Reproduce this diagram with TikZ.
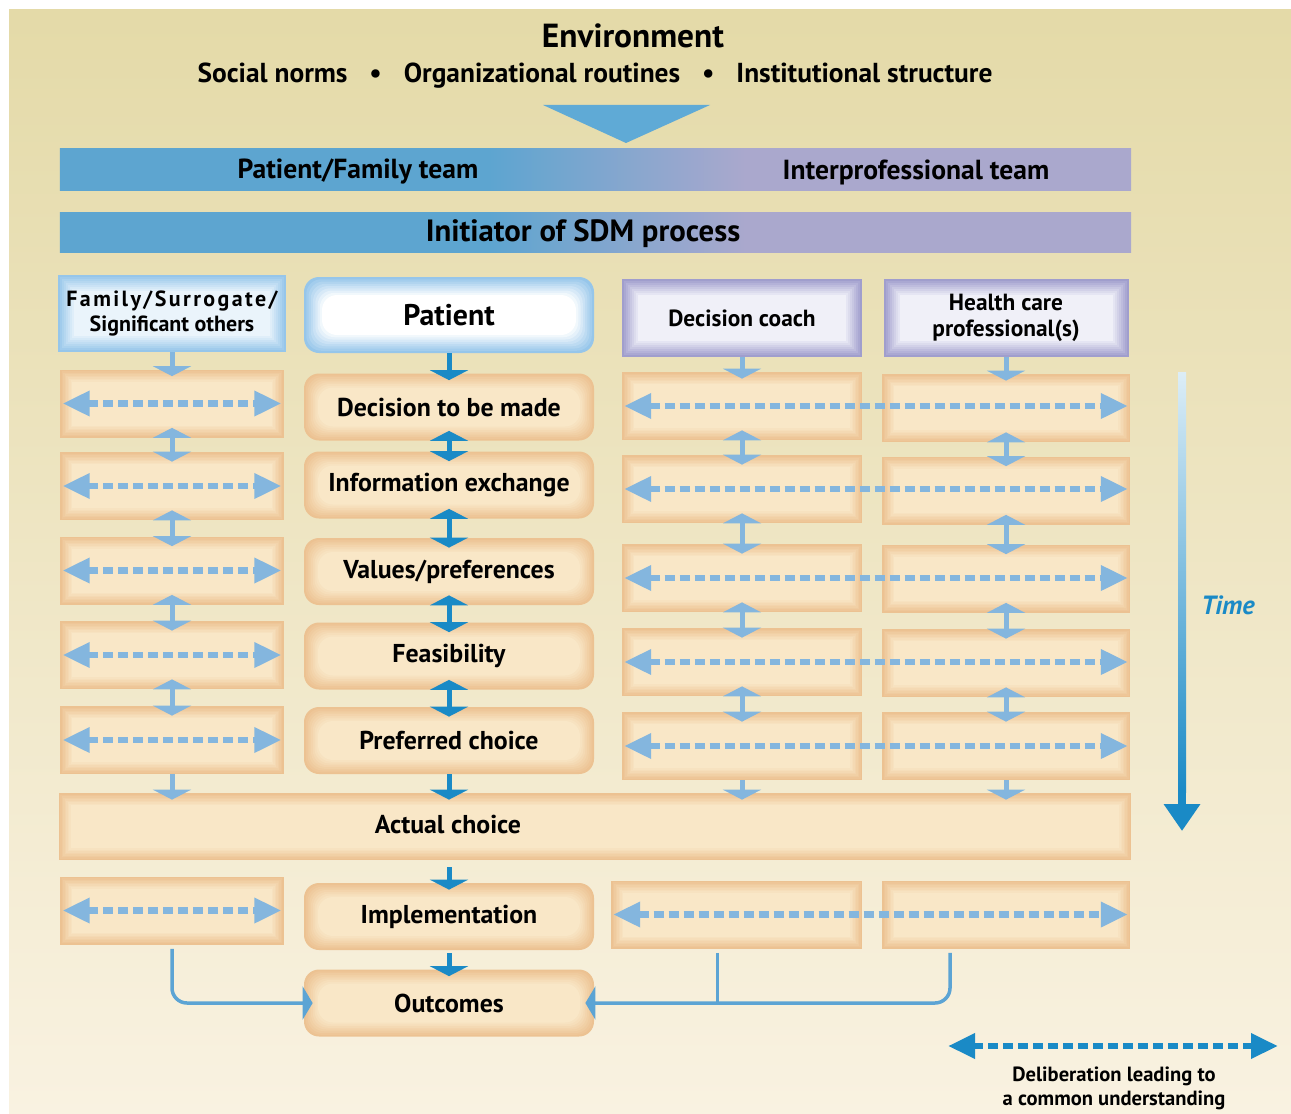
\documentclass[tikz,border=0pt]{standalone}
\usepackage{fontspec}
\setmainfont{PT Sans}
\newfontfamily\spacedfont{PT Sans}[LetterSpace=11]
\usetikzlibrary{arrows.meta,positioning}

\definecolor{bgtop}{RGB}{228,218,168}
\definecolor{bgmid}{RGB}{237,228,190}
\definecolor{bgbot}{RGB}{249,242,225}
\definecolor{barblue}{RGB}{93,165,208}
\definecolor{barlav}{RGB}{170,168,205}
\definecolor{envblue}{RGB}{95,170,214}
\definecolor{lightarr}{RGB}{132,182,222}
\definecolor{darkarr}{RGB}{26,138,198}
\definecolor{linkblue}{RGB}{92,164,212}
\definecolor{tanout}{RGB}{236,194,146}
\definecolor{tanin}{RGB}{249,231,199}
\definecolor{blueframe}{RGB}{150,198,234}
\definecolor{bluecore}{RGB}{234,244,251}
\definecolor{lavframe}{RGB}{160,158,205}
\definecolor{lavcore}{RGB}{240,240,248}

\pgfdeclarehorizontalshading{teambar}{100bp}{color(0bp)=(barblue); color(45bp)=(barblue); color(57bp)=(barlav); color(100bp)=(barlav)}

\tikzset{
  glow/.style n args={4}{fill=#1, rounded corners=#3, inner sep=0pt, path picture={
      \foreach \k in {1,...,8}{
        \pgfmathtruncatemacro\pc{\k*12.5}
        \fill[#2!\pc!#1, rounded corners=#3]
          ([shift={(\k*#4,\k*#4)}]path picture bounding box.south west) rectangle
          ([shift={(-\k*#4,-\k*#4)}]path picture bounding box.north east);
      }}},
  tanbox/.style={glow={tanout}{tanin}{0pt}{0.3mm}, minimum height=13.6mm},
  stepbox/.style={glow={tanout}{tanin}{3mm}{0.35mm}, minimum width=58mm,
    minimum height=13.4mm, font=\fontsize{14.7}{17}\selectfont\bfseries},
  bluehead/.style={glow={blueframe}{bluecore}{0pt}{0.4mm}, align=center,
    font=\fontsize{12.5}{14.5}\selectfont\bfseries},
  pathead/.style={glow={blueframe}{white}{3mm}{0.45mm},
    font=\fontsize{17}{20}\selectfont\bfseries},
  lavhead/.style={glow={lavframe}{lavcore}{0pt}{0.4mm}, align=center,
    minimum height=15.6mm, font=\fontsize{13.3}{15}\selectfont\bfseries},
  teams/.style={shade, shading=teambar, minimum width=214.2mm, inner sep=0pt},
  label/.style={font=\fontsize{15.7}{18}\selectfont\bfseries},
  down/.style={-{Triangle[width=7.6mm,length=2mm]}, line width=1mm, shorten >=-1.4mm},
  updown/.style={{Triangle[width=7.6mm,length=2mm]}-{Triangle[width=7.6mm,length=2mm]},
    line width=1mm, shorten <=-2mm, shorten >=-2mm},
  talk/.style={{Triangle[width=4.8mm,length=5.4mm]}-{Triangle[width=4.8mm,length=5.4mm]},
    line width=1.3mm, dash pattern=on 2mm off 1mm, shorten <=0.5mm, shorten >=0.5mm},
  link/.style={linkblue, line width=0.7mm, rounded corners=3mm, shorten <=0.8mm},
}

\begin{document}
\begin{tikzpicture}[x=0.2mm, y=-0.2mm]
  \useasboundingbox (0,0) rectangle (1291,1113);
  \shade[top color=bgtop, middle color=bgmid, bottom color=bgbot] (9,10) rectangle (1291,1113);

  % Environment
  \node[font=\fontsize{19}{22}\selectfont\bfseries] (env) at (633,36) {Environment};
  \node[font=\fontsize{15.6}{18}\selectfont\bfseries] (norms) at (595,76)
    {Social norms\hspace{0.8em}\textbullet\hspace{0.8em}Organizational routines\hspace{0.8em}\textbullet\hspace{0.8em}Institutional structure};
  \fill[envblue] (543,105) -- (710,105) -- (626,143) -- cycle;

  % Teams
  \node[teams, minimum height=8.2mm] (teambar) at (595.5,169.5) {};
  \node[label] (pft) at (358,172) {Patient/Family team};
  \node[label] (ipt) at (916,172) {Interprofessional team};
  \node[teams, minimum height=8mm] (initbar) at (595.5,232) {};
  \node[font=\fontsize{17.5}{20}\selectfont\bfseries] (init) at (583,234) {Initiator of SDM process};

  % Headers
  \node[bluehead, minimum width=45.4mm, minimum height=15.4mm] (fam) at (172,313.5)
    {{\spacedfont Family/Surrogate/}\\Significant others};
  \node[pathead, minimum width=58mm, minimum height=15.2mm] (pat) at (449,315) {Patient};
  \node[lavhead, minimum width=48mm] (dc) at (742,318) {Decision coach};
  \node[lavhead, minimum width=49mm] (hcp) at (1006,318) {Health care\\professional(s)};

  % Steps
  \foreach \n/\y in {1/403.5,2/486,3/570.5,4/655,5/740,i/910.5}
    \node[tanbox, minimum width=44.6mm] (f\n) at (172,\y) {};
  \foreach \n/\y/\txt in {1/407/Decision to be made,2/485/Information exchange,
      3/571.5/{Values/preferences},4/656/Feasibility,5/740.5/Preferred choice,
      imp/916.5/Implementation,out/1003/Outcomes}
    \node[stepbox] (p\n) at (449,\y) {\txt};
  \foreach \n/\y in {1/406,2/489,3/578,4/662,5/746}
    \node[tanbox, minimum width=48mm] (d\n) at (742,\y) {};
  \foreach \n/\y in {1/408,2/490.5,3/578.5,4/663,5/746}
    \node[tanbox, minimum width=49.6mm] (h\n) at (1006,\y) {};
  \node[tanbox, minimum width=50.2mm] (di) at (736.5,914.5) {};
  \node[tanbox, minimum width=49.6mm] (hi) at (1006,914.5) {};
  \node[tanbox, minimum width=214.4mm, minimum height=13.4mm] (act) at (595,826.5) {};
  \node[font=\fontsize{14.7}{17}\selectfont\bfseries] (actlbl) at (448,824) {Actual choice};

  % Arrows down the columns
  \draw[down, lightarr] (fam.south) -- (f1.north);
  \draw[down, darkarr] (pat.south) -- (p1.north);
  \draw[down, lightarr] (dc.south) -- (d1.north);
  \draw[down, lightarr] (hcp.south) -- (h1.north);
  \foreach \a/\b in {1/2,2/3,3/4,4/5}{
    \draw[updown, lightarr] (f\a.south) -- (f\b.north);
    \draw[updown, darkarr] (p\a.south) -- (p\b.north);
    \draw[updown, lightarr] (d\a.south) -- (d\b.north);
    \draw[updown, lightarr] (h\a.south) -- (h\b.north);
  }
  \foreach \c in {f,d,h}
    \draw[down, lightarr] (\c5.south) -- (\c5.south |- act.north);
  \draw[down, darkarr] (p5.south) -- (p5.south |- act.north);
  \draw[down, darkarr, shorten <=1.4mm] (act.south -| pimp.north) -- (pimp.north);
  \draw[down, darkarr, shorten <=0.6mm] (pimp.south) -- (pout.north);

  % Deliberation
  \foreach \n in {1,2,3,4,5,i}{
    \draw[talk, lightarr] (f\n.west) -- (f\n.east);
    \draw[talk, lightarr] (d\n.west) -- (d\n.west -| h\n.east);
  }

  % Outcomes
  \coordinate (dfoot) at ([xshift=-3.8mm]di.south);
  \coordinate (hfoot) at ([xshift=-11.2mm]hi.south);
  \draw[link, -{Triangle[width=6.6mm,length=2mm]}, shorten >=-1.8mm] (fi.south) |- (pout.west);
  \draw[link, -{Triangle[width=6.6mm,length=2mm]}, shorten >=-1.8mm] (hfoot) |- (pout.east);
  \draw[link] (dfoot) -- (dfoot |- pout.east);

  % Time
  \coordinate (ttop) at (1182,372);
  \coordinate (tmid) at (1182,790);
  \coordinate (tend) at (1182,831);
  \shade[top color=white!85!darkarr, middle color=darkarr!80!white, bottom color=darkarr]
    (1178,372) rectangle (1186,792);
  \draw[darkarr, line width=1.6mm, -{Triangle[width=7mm,length=5.4mm]}] (tmid) -- (tend);
  \node[font=\fontsize{15}{18}\selectfont\bfseries\itshape, text=darkarr] (time) at (1228,605) {Time};

  % Legend
  \coordinate (legl) at (948,1046);
  \coordinate (legr) at (1278,1046);
  \draw[talk, darkarr, shorten <=0pt, shorten >=0pt] (legl) -- (legr);
  \node[align=center, font=\fontsize{11.7}{13.6}\selectfont\bfseries] (legtxt) at (1114,1088)
    {Deliberation leading to\\a common understanding};
\end{tikzpicture}
\end{document}
